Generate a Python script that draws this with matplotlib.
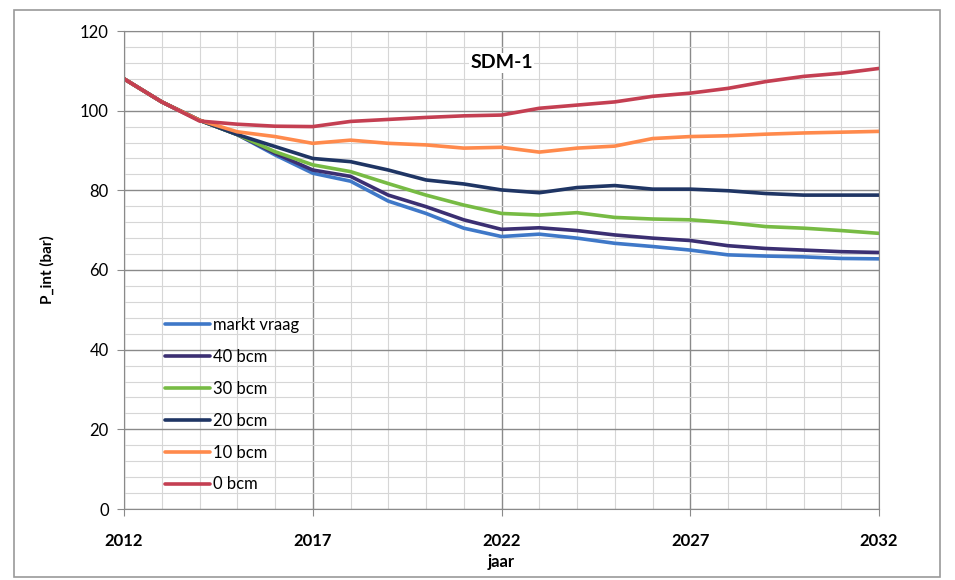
import matplotlib
matplotlib.use('Agg')
import matplotlib.pyplot as plt
from matplotlib.patches import Rectangle
from matplotlib.ticker import MultipleLocator

plt.rcParams['font.family'] = ['Lato', 'DejaVu Sans']

# jaren en drukken (bar) per scenario
jaren = [2012, 2013, 2014, 2015, 2016, 2017, 2018, 2019, 2020, 2021, 2022,
         2023, 2024, 2025, 2026, 2027, 2028, 2029, 2030, 2031, 2032]

markt_vraag = [108, 102.2, 97.6, 94.0, 88.9, 84.3, 82.3, 77.3, 74.2, 70.5, 68.4,
               69.0, 68.0, 66.7, 65.9, 65.0, 63.8, 63.5, 63.3, 62.9, 62.8]
bcm40 = [108, 102.2, 97.6, 94.0, 89.3, 85.1, 83.5, 78.8, 75.9, 72.6, 70.2,
         70.6, 69.9, 68.8, 68.0, 67.4, 66.1, 65.4, 65.0, 64.6, 64.4]
bcm30 = [108, 102.2, 97.6, 94.0, 89.7, 86.4, 84.7, 81.7, 78.8, 76.3, 74.2,
         73.8, 74.4, 73.2, 72.8, 72.6, 71.9, 70.9, 70.5, 69.9, 69.2]
bcm20 = [108, 102.2, 97.6, 94.0, 91.0, 88.0, 87.2, 85.1, 82.6, 81.6, 80.1,
         79.4, 80.7, 81.2, 80.3, 80.3, 79.9, 79.2, 78.8, 78.8, 78.8]
bcm10 = [108, 102.2, 97.6, 94.7, 93.5, 91.8, 92.6, 91.8, 91.4, 90.6, 90.8,
         89.6, 90.6, 91.1, 93.0, 93.5, 93.7, 94.1, 94.4, 94.6, 94.8]
bcm0 = [108, 102.2, 97.4, 96.6, 96.1, 96.0, 97.3, 97.8, 98.3, 98.7, 98.9,
        100.6, 101.4, 102.2, 103.6, 104.4, 105.6, 107.3, 108.6, 109.4, 110.6]

jaar_labels = [2012, 2017, 2022, 2027, 2032]

reeksen = [("markt vraag", markt_vraag, "#3f78c8"),
           ("40 bcm", bcm40, "#3b2f72"),
           ("30 bcm", bcm30, "#77bb44"),
           ("20 bcm", bcm20, "#1f3564"),
           ("10 bcm", bcm10, "#ff8a4c"),
           ("0 bcm", bcm0, "#c43f52")]

fig = plt.figure(figsize=(9.55, 5.8), dpi=100)
ax = fig.add_axes([124 / 955, 1 - 509 / 580, 755 / 955, 478 / 580])

for naam, waarden, kleur in reeksen:
    ax.plot(jaren, waarden, color=kleur, lw=2.6, label=naam, solid_capstyle='round')

ax.set_xlim(2012, 2032)
ax.set_ylim(0, 120)
ax.set_xticks(jaar_labels)
ax.xaxis.set_minor_locator(MultipleLocator(1))
ax.yaxis.set_major_locator(MultipleLocator(20))
ax.yaxis.set_minor_locator(MultipleLocator(4))
ax.grid(which='major', color='#8a8a8a', lw=1.0)
ax.grid(which='minor', color='#d6d6d6', lw=0.8)
ax.set_axisbelow(True)
for s in ax.spines.values():
    s.set_color('#8a8a8a')

ax.tick_params(which='major', direction='out', length=5, color='#8a8a8a', labelsize=12, pad=6)
ax.tick_params(which='minor', length=0)
for lbl in ax.get_xticklabels():
    lbl.set_fontweight('bold')
ax.tick_params(axis='x', pad=12)

ax.set_ylabel("P_int (bar)", fontsize=11, fontweight='bold', labelpad=18)
ax.set_xlabel("jaar", fontsize=12, fontweight='bold', labelpad=4)

ax.text(2022, 112, "SDM-1", ha='center', va='center', fontsize=14, fontweight='bold',
        bbox=dict(facecolor='white', edgecolor='none', pad=1))

ax.legend(loc='upper left', bbox_to_anchor=(0.045, 0.415), frameon=False, fontsize=12,
          handlelength=2.7, handletextpad=0.2, labelspacing=0.95, borderaxespad=0)

# rand rond de hele grafiek
fig.patches.append(Rectangle((14 / 955, 3 / 580), 926 / 955, 567 / 580, transform=fig.transFigure,
                             fill=False, edgecolor='#9a9a9a', lw=1.2))

fig.savefig("out.png", dpi=100)
